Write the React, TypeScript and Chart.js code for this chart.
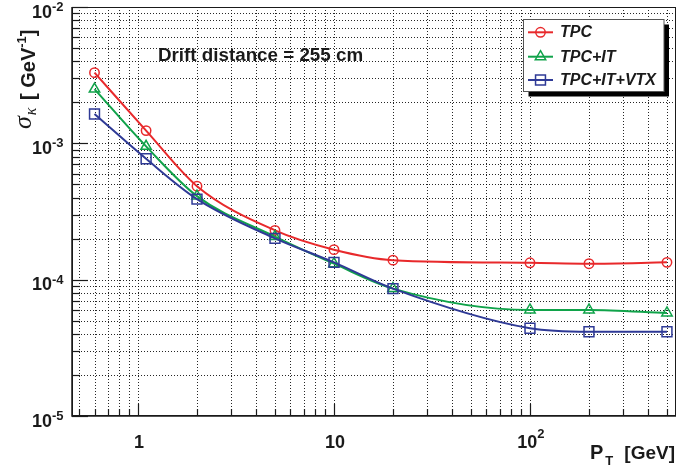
import { useEffect, useRef } from 'react';
import { Chart, registerables } from 'chart.js';

Chart.register(...registerables);

// ---------- data ----------
const ptValues = [0.6, 1.1, 2, 5, 10, 20, 100, 200, 500];
const tpcValues = [3.3e-3, 1.24e-3, 4.85e-4, 2.3e-4, 1.66e-4, 1.39e-4, 1.33e-4, 1.31e-4, 1.34e-4];
const tpcItValues = [2.5e-3, 9.5e-4, 4.1e-4, 2.07e-4, 1.31e-4, 8.6e-5, 6.0e-5, 6.0e-5, 5.7e-5];
const tpcItVtxValues = [1.64e-3, 7.7e-4, 3.9e-4, 2.01e-4, 1.34e-4, 8.6e-5, 4.4e-5, 4.15e-5, 4.15e-5];
const seriesNames = ['TPC', 'TPC+IT', 'TPC+IT+VTX'];

const xTickValues = [1, 10, 100];
const xTickBase = ['1', '10', '10'];
const xTickSup = ['', '', '2'];
const yTickValues = [1e-5, 1e-4, 1e-3, 1e-2];
const yTickBase = ['10', '10', '10', '10'];
const yTickSup = ['-5', '-4', '-3', '-2'];

const xMin = 0.4606;
const xMax = 556;
const yMin = 1e-5;
const yMax = 1e-2;

const annotationText = 'Drift distance = 255 cm';

// ---------- style ----------
const RED = '#e8292b';
const GREEN = '#10a34a';
const BLUE = '#2f3a96';
const INK = '#1a1a1a';
const SANS = '"Liberation Sans", Arial, Helvetica, sans-serif';
const SERIF = '"Liberation Serif", "DejaVu Serif", serif';

function logSteps(min: number, max: number) {
  const out: { v: number; major: boolean }[] = [];
  const e0 = Math.floor(Math.log10(min));
  const e1 = Math.ceil(Math.log10(max));
  for (let e = e0; e <= e1; e++) {
    for (let s = 1; s <= 9; s++) {
      const v = s * Math.pow(10, e);
      if (v >= min * 0.9999 && v <= max * 1.0001) out.push({ v, major: s === 1 });
    }
  }
  return out;
}

function drawMarker(ctx: CanvasRenderingContext2D, style: string, x: number, y: number, color: string) {
  ctx.save();
  ctx.strokeStyle = color;
  ctx.lineWidth = 1.5;
  ctx.beginPath();
  if (style === 'circle') {
    ctx.arc(x, y, 4.7, 0, Math.PI * 2);
  } else if (style === 'triangle') {
    const r = 6;
    for (let i = 0; i < 3; i++) {
      const a = (i * 2 * Math.PI) / 3;
      const px = x + Math.sin(a) * r;
      const py = y - Math.cos(a) * r;
      if (i === 0) ctx.moveTo(px, py);
      else ctx.lineTo(px, py);
    }
    ctx.closePath();
  } else {
    const h = 7 * Math.SQRT1_2;
    ctx.rect(x - h, y - h, 2 * h, 2 * h);
  }
  ctx.stroke();
  ctx.restore();
}

const rootStyle = {
  id: 'rootStyle',
  beforeDatasetsDraw(chart: any) {
    const { ctx, chartArea: a } = chart;
    const xs = chart.scales.x;
    const ys = chart.scales.y;
    ctx.save();
    ctx.strokeStyle = 'rgba(0,0,0,0.85)';
    ctx.lineWidth = 1;
    ctx.setLineDash([1, 2]);
    for (const t of logSteps(xMin, xMax)) {
      const px = Math.round(xs.getPixelForValue(t.v)) + 0.5;
      if (px <= a.left + 1 || px >= a.right - 1) continue;
      ctx.beginPath();
      ctx.moveTo(px, a.top);
      ctx.lineTo(px, a.bottom);
      ctx.stroke();
    }
    for (const t of logSteps(yMin, yMax)) {
      const py = Math.round(ys.getPixelForValue(t.v)) + 0.5;
      if (py <= a.top + 1 || py >= a.bottom - 1) continue;
      ctx.beginPath();
      ctx.moveTo(a.left, py);
      ctx.lineTo(a.right, py);
      ctx.stroke();
    }
    ctx.restore();
  },
  afterDatasetsDraw(chart: any) {
    const { ctx, chartArea: a } = chart;
    const xs = chart.scales.x;
    const ys = chart.scales.y;
    ctx.save();
    // frame
    ctx.setLineDash([]);
    ctx.strokeStyle = INK;
    ctx.lineWidth = 1;
    ctx.strokeRect(a.left + 0.5, a.top + 0.5, a.right - a.left - 1, a.bottom - a.top - 1);
    ctx.lineWidth = 1.5;
    ctx.beginPath();
    ctx.moveTo(a.left, a.top);
    ctx.lineTo(a.left, a.bottom);
    ctx.lineTo(a.right, a.bottom);
    ctx.stroke();
    // ticks
    ctx.lineWidth = 1.2;
    for (const t of logSteps(xMin, xMax)) {
      const px = Math.round(xs.getPixelForValue(t.v)) + 0.5;
      const len = t.major ? 12 : 7;
      ctx.beginPath();
      ctx.moveTo(px, a.bottom);
      ctx.lineTo(px, a.bottom - len);
      ctx.stroke();
    }
    for (const t of logSteps(yMin, yMax)) {
      const py = Math.round(ys.getPixelForValue(t.v)) + 0.5;
      const len = t.major ? 16 : 8;
      ctx.beginPath();
      ctx.moveTo(a.left, py);
      ctx.lineTo(a.left + len, py);
      ctx.stroke();
    }
    // tick labels
    ctx.fillStyle = INK;
    ctx.textBaseline = 'alphabetic';
    ctx.textAlign = 'left';
    const baseFont = `bold 18px ${SANS}`;
    const supFont = `bold 13px ${SANS}`;
    xTickValues.forEach((v, i) => {
      const px = xs.getPixelForValue(v);
      ctx.font = baseFont;
      const wb = ctx.measureText(xTickBase[i]).width;
      ctx.font = supFont;
      const wsup = xTickSup[i] ? ctx.measureText(xTickSup[i]).width : 0;
      const start = px - (wb + wsup) / 2 + 1;
      ctx.font = baseFont;
      ctx.fillText(xTickBase[i], start, a.bottom + 31.5);
      if (xTickSup[i]) {
        ctx.font = supFont;
        ctx.fillText(xTickSup[i], start + wb, a.bottom + 22);
      }
    });
    yTickValues.forEach((v, i) => {
      const py = ys.getPixelForValue(v);
      ctx.font = supFont;
      const wsup = ctx.measureText(yTickSup[i]).width;
      ctx.font = baseFont;
      const wb = ctx.measureText(yTickBase[i]).width;
      const right = a.left - 8.5;
      ctx.fillText(yTickBase[i], right - wsup - wb, py + 10.5);
      ctx.font = supFont;
      ctx.fillText(yTickSup[i], right - wsup, py + 4);
    });
    // x axis title: P_T [GeV]
    ctx.font = `bold 20px ${SANS}`;
    ctx.fillText('P', 590, 458.5);
    const wP = ctx.measureText('P').width;
    ctx.font = `bold 13px ${SANS}`;
    ctx.fillText('T', 590 + wP + 2, 465);
    ctx.font = `bold 19px ${SANS}`;
    ctx.textAlign = 'right';
    ctx.fillText('[GeV]', a.right - 1, 458.5);
    ctx.textAlign = 'left';
    // y axis title: sigma_kappa [ GeV^-1]
    ctx.save();
    ctx.translate(35, 129);
    ctx.rotate(-Math.PI / 2);
    let cx = 0;
    ctx.font = `italic 26px ${SERIF}`;
    ctx.fillText('σ', cx, -4);
    cx += ctx.measureText('σ').width + 1;
    ctx.font = `italic 16px ${SERIF}`;
    ctx.fillText('κ', cx, 1);
    cx = 29;
    ctx.font = `bold 20px ${SANS}`;
    ctx.fillText('[ GeV', cx, 0);
    cx += ctx.measureText('[ GeV').width;
    ctx.font = `bold 13px ${SANS}`;
    ctx.fillText('-1', cx, -9);
    cx += ctx.measureText('-1').width;
    ctx.font = `bold 20px ${SANS}`;
    ctx.fillText(']', cx, 0);
    ctx.restore();
    // annotation
    ctx.font = `bold 18.8px ${SANS}`;
    ctx.fillText(annotationText, 158, 61);
    // legend
    const lx = 523.5;
    const ly = 19.5;
    const lw = 140.5;
    const lh = 72;
    ctx.fillStyle = '#000';
    ctx.fillRect(lx + 5, ly + 5, lw, lh);
    ctx.fillStyle = '#fff';
    ctx.fillRect(lx, ly, lw, lh);
    ctx.strokeStyle = '#555';
    ctx.lineWidth = 1;
    ctx.strokeRect(lx, ly, lw, lh);
    const colors = [RED, GREEN, BLUE];
    const styles = ['circle', 'triangle', 'rect'];
    const rowY = [32.3, 56.7, 80];
    seriesNames.forEach((name, i) => {
      ctx.strokeStyle = colors[i];
      ctx.lineWidth = 2;
      ctx.beginPath();
      ctx.moveTo(528, rowY[i]);
      ctx.lineTo(553, rowY[i]);
      ctx.stroke();
      drawMarker(ctx, styles[i], 540.5, rowY[i], colors[i]);
      ctx.fillStyle = INK;
      ctx.font = `italic bold 16px ${SANS}`;
      ctx.textBaseline = 'middle';
      ctx.fillText(name, 560, rowY[i] + 0.5);
      ctx.textBaseline = 'alphabetic';
    });
    ctx.restore();
  },
};

export default function App() {
  const ref = useRef<HTMLCanvasElement | null>(null);
  useEffect(() => {
    if (!ref.current) return;
    const mk = (label: string, data: number[], color: string, style: string, radius: number, order: number) => ({
      label,
      data: ptValues.map((x, i) => ({ x, y: data[i] })),
      borderColor: color,
      backgroundColor: 'rgba(0,0,0,0)',
      pointBorderColor: color,
      pointBackgroundColor: 'rgba(0,0,0,0)',
      pointStyle: style,
      pointRadius: radius,
      pointBorderWidth: 1.5,
      borderWidth: 2,
      cubicInterpolationMode: 'monotone',
      tension: 0.4,
      fill: false,
      order,
    });
    const chart = new Chart(ref.current, {
      type: 'line',
      data: {
        datasets: [
          mk(seriesNames[0], tpcValues, RED, 'circle', 4.7, 3),
          mk(seriesNames[1], tpcItValues, GREEN, 'triangle', 6, 2),
          mk(seriesNames[2], tpcItVtxValues, BLUE, 'rect', 7, 1),
        ] as any,
      },
      options: {
        animation: false,
        responsive: false,
        devicePixelRatio: 1,
        layout: { autoPadding: false, padding: { left: 72, top: 7, right: 2, bottom: 49 } },
        plugins: { legend: { display: false }, tooltip: { enabled: false } },
        events: [],
        scales: {
          x: { type: 'logarithmic', min: xMin, max: xMax, display: false },
          y: { type: 'logarithmic', min: yMin, max: yMax, display: false },
        },
      } as any,
      plugins: [rootStyle as any],
    });
    return () => chart.destroy();
  }, []);
  return (
    <div style={{ position: 'fixed', left: 0, top: 0, width: 678, height: 465, background: '#fff' }}>
      <canvas ref={ref} width={678} height={465} style={{ display: 'block' }} />
    </div>
  );
}
